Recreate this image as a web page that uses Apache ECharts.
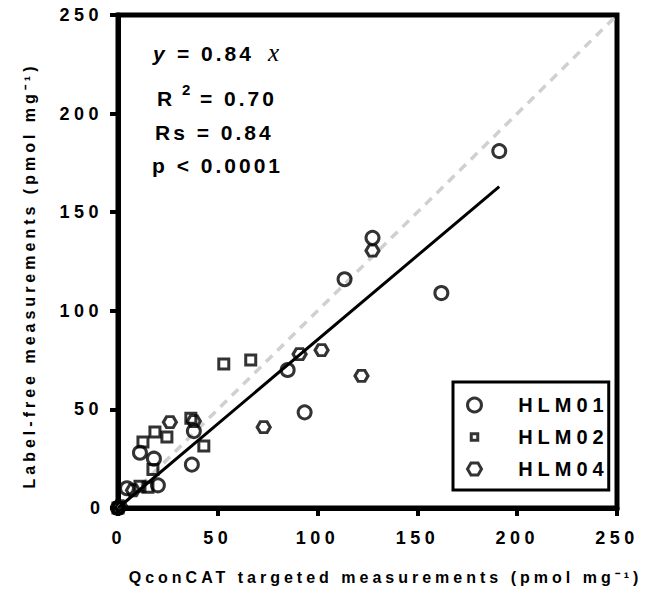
<!DOCTYPE html>
<html>
<head>
<meta charset="utf-8">
<script src="https://cdn.jsdelivr.net/npm/echarts@6/dist/echarts.min.js"></script>
<style>
  html, body { margin: 0; padding: 0; background: #fff; }
  #chart { width: 650px; height: 595px; }
  #chart text { letter-spacing: 3px; }
</style>
</head>
<body>
<div id="chart"></div>
<script>
// ---- data ----
const xTicks = [0, 50, 100, 150, 200, 250];
const yTicks = [0, 50, 100, 150, 200, 250];
const seriesNames = ['HLM01', 'HLM02', 'HLM04'];
const hlm01 = [[191,181],[162,109],[127.5,137],[113.5,116],[93.5,48.5],[85,70],[38,39],[37,22],[20,11.5],[11,28],[18,25],[4.5,10],[0,0]];
const hlm02 = [[53,73],[66.5,75],[36.5,45.5],[43,31.5],[24.5,36],[18.5,38.5],[12.5,33.5],[17.5,19.5],[11,11],[15,10.5],[0,0]];
const hlm04 = [[127.5,130.5],[102,80],[91,78],[122,67],[73,41],[26,43.5],[38,44],[7.5,9],[0,0],[1,1]];
const slopeLabel = '0.84';
const fitLine = [[0, 0], [191, 163]];          // drawn regression line end points
const identityLine = [[0, 0], [250, 250]];     // dashed y = x line
const xTitle = 'QconCAT targeted measurements (pmol mg\u207B\u00B9)';
const yTitle = 'Label-free measurements (pmol mg\u207B\u00B9)';

const FONT = '"Liberation Sans", Arial, Helvetica, sans-serif';
const HEX = 'path://M0,43.3 L25,0 L75,0 L100,43.3 L75,86.6 L25,86.6 Z';
const LEG_SQUARE = 'path://M0,0 M28,28 M7.5,7.5 L20.5,7.5 L20.5,20.5 L7.5,20.5 Z';

const chart = echarts.init(document.getElementById('chart'), null, { renderer: 'svg' });

const axisCommon = {
  type: 'value', min: 0, max: 250, interval: 50,
  axisLine: { show: true, onZero: false, lineStyle: { color: '#000', width: 5 } },
  axisTick: { show: true, length: 8, lineStyle: { color: '#000', width: 4 } },
  splitLine: { show: false },
  nameLocation: 'middle'
};

const symStyle = { color: 'rgba(0,0,0,0)', borderColor: '#000', borderWidth: 3 };
const txt = (x, y, text, font) => ({ type: 'text', x, y, style: { text, font, fill: '#000', textAlign: 'left', textVerticalAlign: 'middle' } });

chart.setOption({
  animation: false,
  backgroundColor: '#fff',
  grid: { left: 118, right: 33, top: 15, bottom: 87, show: true, borderColor: '#000', borderWidth: 5, backgroundColor: 'transparent' },
  xAxis: Object.assign({}, axisCommon, {
    axisLabel: { color: '#000', fontSize: 18, fontWeight: 'bold', fontFamily: FONT, margin: 21,
      formatter: v => xTicks.includes(v) ? String(v) : '' },
    name: xTitle, nameGap: 61,
    nameTextStyle: { color: '#000', fontSize: 16, fontWeight: 'bold', fontFamily: FONT, padding: [0, 0, 0, 36] }
  }),
  yAxis: Object.assign({}, axisCommon, {
    axisLabel: { color: '#000', fontSize: 18, fontWeight: 'bold', fontFamily: FONT, margin: 15,
      formatter: v => yTicks.includes(v) ? String(v) : '' },
    name: yTitle, nameGap: 81,
    nameTextStyle: { color: '#000', fontSize: 16, fontWeight: 'bold', fontFamily: FONT, padding: [0, 28, 0, 0] }
  }),
  legend: {
    orient: 'vertical', left: 453, top: 382,
    padding: [13, 40, 11, 13],
    itemWidth: 14, itemHeight: 14, itemGap: 12,
    borderColor: '#000', borderWidth: 3, backgroundColor: '#fff',
    selectedMode: false,
    formatter: name => '   ' + name,
    textStyle: { color: '#000', fontSize: 20, fontWeight: 'bold', fontFamily: FONT },
    data: [
      { name: seriesNames[0], icon: 'circle', itemStyle: symStyle },
      { name: seriesNames[1], icon: LEG_SQUARE, itemStyle: symStyle },
      { name: seriesNames[2], icon: HEX, itemStyle: symStyle }
    ]
  },
  series: [
    { name: 'identity', type: 'line', data: identityLine, symbol: 'none', silent: true, z: 1,
      lineStyle: { color: '#d0d0d0', width: 3.5, type: [9, 7] } },
    { name: 'fit', type: 'line', data: fitLine, symbol: 'none', silent: true, z: 2,
      lineStyle: { color: '#000', width: 3 } },
    { name: seriesNames[0], type: 'scatter', data: hlm01, symbol: 'circle', symbolSize: 13, clip: false, z: 3, itemStyle: symStyle },
    { name: seriesNames[1], type: 'scatter', data: hlm02, symbol: 'rect', symbolSize: 10, clip: false, z: 3, itemStyle: symStyle },
    { name: seriesNames[2], type: 'scatter', data: hlm04, symbol: HEX, symbolSize: [13, 11], clip: false, z: 3, itemStyle: symStyle }
  ],
  graphic: [
    txt(153, 53, 'y', 'italic bold 21px ' + FONT),
    txt(177, 53, '= ' + slopeLabel, 'bold 21px ' + FONT),
    txt(268, 52, 'x', 'italic 25px "Liberation Serif", "Times New Roman", serif'),
    txt(157, 98, 'R', 'bold 21px ' + FONT),
    txt(182, 89, '2', 'bold 15px ' + FONT),
    txt(200, 98, '= 0.70', 'bold 21px ' + FONT),
    txt(155, 132, 'Rs = 0.84', 'bold 21px ' + FONT),
    txt(152, 165, 'p < 0.0001', 'bold 21px ' + FONT)
  ]
});

function applySpacing() {
  document.querySelectorAll('#chart text').forEach(t => {
    const s = t.textContent || '';
    let ls = '3px';
    if (/^\d{2,3}$/.test(s.trim())) ls = '4.5px';
    else if (s.indexOf('measurements') >= 0) ls = '4px';
    else if (s.indexOf('HLM') >= 0) ls = '5px';
    t.style.letterSpacing = ls;
  });
}
applySpacing();
chart.on('finished', applySpacing);
setTimeout(applySpacing, 0);
</script>
</body>
</html>
